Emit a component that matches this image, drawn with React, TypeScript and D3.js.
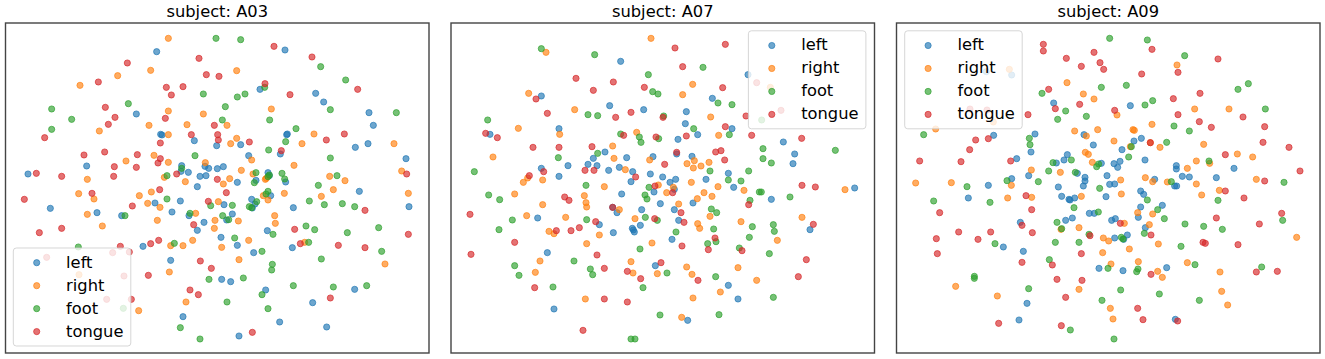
import React from 'react';
import * as d3 from 'd3';

// embedding values, as [x, y] pairs (y runs downwards)
const labels = ['left', 'right', 'foot', 'tongue'];
const colors = ['#1f77b4', '#ff7f0e', '#2ca02c', '#d62728'];
const subjects = ['A03', 'A07', 'A09'];

const a03Left = [[470,155],[409,342],[482,403],[486,405],[583,422],[650,437],[260,498],[84,522],[545,497],[615,499],[626,505],[652,506],[565,517],[600,529],[618,527],[543,514],[855,150],[780,268],[947,280],[971,306],[1107,338],[1120,376],[860,404],[862,402],[722,434],[1066,442],[1104,431],[841,462],[746,467],[1218,476],[670,500],[804,518],[808,527],[712,547],[768,541],[857,546],[812,587],[755,598],[765,612],[757,624],[672,614],[697,642],[680,660],[880,623],[1078,574],[1227,620],[802,692],[663,712],[712,736],[877,743],[761,758],[665,838],[692,845],[797,870],[1064,868],[938,908],[839,966],[980,981],[717,1008],[592,560],[151,625],[291,638],[365,647],[465,609],[541,603],[516,636],[567,647],[612,667],[592,691],[429,739],[512,781],[549,950]];
const a03Right = [[505,115],[452,211],[353,227],[240,256],[505,333],[610,342],[447,376],[561,374],[298,393],[505,404],[462,466],[378,483],[505,487],[616,488],[262,538],[493,532],[710,212],[814,327],[681,376],[942,402],[710,415],[692,431],[906,431],[1182,431],[755,480],[882,496],[724,511],[759,522],[1205,513],[989,529],[689,536],[796,538],[799,535],[670,552],[790,587],[804,600],[853,580],[964,589],[1000,569],[1225,580],[1035,542],[824,647],[826,670],[715,663],[746,721],[665,742],[717,779],[914,727],[1155,792],[556,545],[236,581],[282,597],[418,587],[454,576],[443,610],[480,622],[655,605],[587,640],[262,643],[472,661],[307,678],[645,661],[643,685],[578,721],[549,737],[512,737],[508,816],[558,906],[416,932],[237,824]];
const a03Foot = [[648,115],[610,282],[385,311],[155,327],[215,358],[155,388],[585,467],[501,527],[545,505],[722,119],[962,200],[1037,240],[794,262],[735,282],[712,291],[676,320],[991,329],[809,360],[667,360],[1189,338],[888,386],[857,425],[806,450],[991,474],[768,518],[846,520],[1011,527],[808,525],[804,530],[854,537],[763,548],[804,574],[798,582],[770,605],[748,620],[755,623],[697,616],[668,647],[686,659],[955,556],[928,603],[973,614],[1027,611],[1064,620],[918,678],[944,689],[1042,698],[1136,683],[819,703],[704,714],[926,727],[786,754],[1145,754],[964,777],[817,793],[815,810],[730,834],[880,857],[1000,861],[1100,857],[786,884],[681,906],[804,926],[501,597],[632,617],[570,640],[375,647],[235,741],[523,730],[627,838],[541,983],[600,1017],[370,925]];
const a03Tongue = [[382,189],[597,175],[619,224],[657,229],[295,246],[499,262],[549,260],[514,285],[316,322],[345,352],[496,355],[325,373],[643,376],[134,413],[574,404],[653,404],[655,420],[481,429],[252,465],[314,456],[412,464],[481,476],[474,489],[343,500],[409,502],[109,520],[185,529],[341,529],[530,522],[652,538],[822,139],[936,171],[795,251],[870,284],[1073,268],[1033,402],[979,420],[748,426],[844,452],[1220,522],[679,578],[1095,631],[884,688],[1225,703],[901,731],[1015,736],[1095,743],[991,894],[757,997],[73,598],[276,580],[479,569],[397,618],[625,604],[581,674],[118,698],[185,685],[476,721],[452,731],[361,739],[388,756],[601,783],[634,805],[445,826],[570,870],[595,884],[394,898],[140,772],[338,758],[372,828],[320,898]];

const a07Left = [[527,184],[289,288],[494,317],[596,329],[342,386],[135,403],[445,475],[480,456],[545,473],[624,470],[429,493],[456,497],[369,497],[289,505],[523,502],[491,511],[563,515],[616,522],[342,529],[653,531],[909,224],[802,295],[724,335],[721,371],[861,386],[758,404],[699,418],[695,462],[741,469],[1015,426],[1049,462],[1044,491],[850,520],[692,538],[675,547],[783,538],[688,568],[866,562],[1229,564],[744,609],[979,598],[688,629],[701,661],[681,718],[1095,689],[850,856],[879,897],[728,961],[558,545],[530,582],[627,576],[646,611],[503,622],[516,638],[590,629],[278,654],[463,674],[505,698],[586,676],[562,685],[565,690],[568,696],[307,758],[631,797],[327,927]];
const a07Right = [[618,115],[303,157],[251,280],[389,329],[220,385],[344,403],[575,397],[503,438],[144,471],[507,475],[614,480],[541,509],[293,540],[248,534],[743,253],[713,284],[797,351],[821,406],[976,262],[726,491],[748,482],[745,504],[768,498],[792,487],[739,547],[819,560],[897,571],[685,562],[1200,569],[665,578],[777,578],[757,596],[801,589],[701,612],[795,649],[758,671],[764,685],[888,665],[1071,652],[997,721],[725,801],[741,823],[879,803],[935,841],[826,876],[744,894],[710,952],[235,547],[209,582],[478,560],[418,587],[423,608],[425,621],[293,614],[245,647],[362,652],[523,629],[570,656],[640,555],[312,694],[327,701],[463,705],[425,731],[621,729],[285,783],[271,817],[558,785],[564,819],[637,821],[421,897]];
const a07Foot = [[289,146],[449,164],[610,224],[623,275],[639,282],[128,360],[429,344],[458,347],[656,348],[527,402],[583,411],[588,427],[641,416],[458,460],[340,473],[88,515],[774,202],[819,309],[861,314],[746,386],[853,404],[954,446],[954,476],[979,489],[1171,451],[795,513],[911,513],[850,540],[888,543],[950,360],[943,576],[949,576],[1035,591],[915,601],[799,627],[815,638],[693,696],[806,687],[922,680],[985,674],[988,694],[913,712],[813,725],[788,731],[883,744],[973,761],[666,819],[812,830],[985,892],[822,944],[423,556],[612,562],[131,585],[164,599],[600,585],[606,597],[425,659],[601,652],[637,661],[202,660],[162,689],[585,747],[387,783],[209,797],[222,826],[436,807],[443,824],[324,861],[594,863],[645,945],[558,1017],[570,1017]];
const a07Tongue = [[393,235],[505,246],[445,271],[598,262],[273,297],[307,340],[512,352],[558,337],[654,352],[122,400],[157,413],[536,406],[633,411],[264,442],[342,442],[441,440],[659,493],[296,515],[420,511],[447,511],[253,527],[572,531],[690,144],[841,133],[713,200],[833,263],[903,348],[841,380],[724,408],[920,406],[1070,415],[695,457],[812,456],[828,452],[839,480],[935,248],[1008,331],[683,578],[1071,556],[1111,561],[911,614],[708,638],[717,667],[1105,673],[810,714],[711,738],[790,749],[891,752],[1084,779],[1060,830],[759,841],[630,558],[359,591],[372,601],[75,643],[503,622],[452,665],[629,656],[334,692],[378,692],[403,683],[209,727],[78,763],[456,765],[478,805],[547,814],[648,788],[587,836],[269,863],[478,897],[547,906],[414,991]];

const a09Left = [[289,215],[365,225],[491,309],[311,406],[435,402],[582,404],[610,435],[423,456],[380,476],[532,464],[522,480],[499,489],[634,490],[562,520],[416,527],[585,532],[585,543],[651,527],[365,536],[721,317],[732,423],[754,415],[696,449],[765,480],[690,484],[672,491],[683,502],[859,497],[859,507],[1032,505],[877,529],[898,531],[979,533],[794,538],[659,553],[674,552],[854,558],[860,558],[752,573],[761,583],[752,621],[745,652],[817,616],[665,661],[676,656],[766,683],[712,705],[674,714],[701,718],[830,803],[699,812],[856,958],[295,556],[505,561],[580,558],[235,594],[515,589],[537,598],[540,600],[554,594],[648,590],[598,640],[613,640],[527,661],[547,654],[391,667],[340,741],[400,754],[627,805],[411,910],[387,960]];
const a09Right = [[358,208],[531,248],[580,282],[612,297],[554,393],[623,389],[589,408],[586,457],[595,463],[607,487],[424,510],[511,517],[137,387],[310,366],[861,195],[914,327],[1017,327],[681,345],[786,373],[729,389],[733,391],[672,423],[810,442],[941,433],[721,440],[781,428],[1042,462],[1088,471],[919,483],[892,505],[959,490],[766,533],[788,545],[832,546],[692,540],[1099,538],[919,552],[988,571],[935,585],[694,582],[743,638],[788,642],[778,674],[703,670],[1220,712],[656,723],[805,732],[718,747],[663,792],[745,785],[892,788],[803,814],[817,832],[990,816],[995,874],[1013,915],[661,925],[669,957],[77,549],[184,548],[364,556],[353,594],[425,592],[574,589],[513,688],[567,683],[640,714],[638,758],[197,859],[322,888],[567,868]];
const a09Foot = [[634,262],[456,280],[527,333],[589,349],[503,358],[101,404],[418,415],[420,434],[489,488],[544,480],[620,500],[626,492],[476,513],[556,517],[659,115],[772,120],[884,167],[709,256],[1075,251],[1044,268],[788,302],[765,315],[1126,327],[852,378],[898,393],[830,427],[724,440],[716,471],[957,483],[844,545],[1182,547],[984,601],[772,600],[803,629],[823,656],[885,672],[941,679],[997,688],[1178,661],[763,700],[694,712],[699,717],[873,739],[915,794],[1115,801],[654,805],[744,807],[740,815],[692,870],[808,882],[928,901],[672,1017],[231,560],[351,542],[445,545],[629,565],[131,603],[300,607],[552,623],[625,636],[501,667],[515,686],[597,703],[315,731],[496,727],[567,727],[478,779],[253,829],[253,835],[416,866],[636,901],[541,990]];
const a09Tongue = [[460,133],[460,153],[612,157],[529,175],[630,188],[641,208],[574,199],[476,268],[569,313],[496,326],[414,344],[257,420],[295,416],[239,449],[89,483],[213,485],[362,483],[240,327],[291,330],[786,148],[984,177],[755,222],[864,217],[930,280],[850,296],[674,331],[864,344],[928,365],[1059,351],[964,382],[1124,380],[1119,427],[1197,442],[781,428],[1006,464],[1230,513],[1124,543],[1006,573],[1062,594],[979,654],[1175,640],[1108,672],[691,670],[783,705],[939,727],[946,730],[1044,734],[1099,816],[1162,814],[783,823],[743,925],[759,959],[863,963],[408,587],[425,629],[149,638],[396,676],[427,698],[206,696],[302,696],[264,718],[139,716],[142,761],[396,787],[487,795],[574,761],[600,707],[501,838],[576,841],[527,892],[326,970],[514,977]];

const panelSeries = [
  [a03Left, a03Right, a03Foot, a03Tongue],
  [a07Left, a07Right, a07Foot, a07Tongue],
  [a09Left, a09Right, a09Foot, a09Tongue],
];

const width = 1325;
const height = 359;
const panelLeft = [5.5, 451, 896.5];
const panelWidth = 423.5;
const panelTop = 23;
const panelBottom = 353;
const xDomains = [[16.5, 1287], [18, 1288.5], [19.5, 1290]];
const yDomain = [69, 1059];

const legendWidth = 117.5;
const legendHeight = 98;
const legendPos = [[13.3, 248], [748.4, 30.8], [904.7, 30.8]];
const markerRadius = 3.1;

const Panel = ({ index }) => {
  const left = panelLeft[index];
  const x = d3.scaleLinear().domain(xDomains[index]).range([left, left + panelWidth]);
  const y = d3.scaleLinear().domain(yDomain).range([panelTop, panelBottom]);
  const rowY = d3.scalePoint().domain(labels).range([14.7, 83.6]);
  const [lx, ly] = legendPos[index];

  return (
    <g>
      <text x={left + panelWidth / 2} y={16.5} textAnchor="middle" fontSize={16.3}>
        subject: {subjects[index]}
      </text>
      {panelSeries[index].map((points, s) => (
        <g key={labels[s]} fill={colors[s]} stroke={colors[s]} fillOpacity={0.65} strokeOpacity={0.65}>
          {points.map((p, i) => (
            <circle key={i} cx={x(p[0])} cy={y(p[1])} r={markerRadius} strokeWidth={1} />
          ))}
        </g>
      ))}
      <rect x={left} y={panelTop} width={panelWidth} height={panelBottom - panelTop} fill="none" stroke="#444" strokeWidth={1.4} />
      <g transform={`translate(${lx},${ly})`}>
        <rect width={legendWidth} height={legendHeight} rx={3} fill="#fff" fillOpacity={0.8} stroke="#ccc" strokeOpacity={0.8} strokeWidth={1} />
        {labels.map((label, s) => (
          <g key={label}>
            <circle cx={23.4} cy={rowY(label)} r={markerRadius} strokeWidth={1} fill={colors[s]} stroke={colors[s]} fillOpacity={0.65} strokeOpacity={0.65} />
            <text x={52.8} y={rowY(label) + 5} fontSize={16.3}>{label}</text>
          </g>
        ))}
      </g>
    </g>
  );
};

export default function App() {
  return (
    <svg
      width={width}
      height={height}
      style={{ position: 'absolute', left: 0, top: 0, fontFamily: '"DejaVu Sans"' }}
    >
      <rect width={width} height={height} fill="#fff" />
      {subjects.map((subject, i) => (
        <Panel key={subject} index={i} />
      ))}
    </svg>
  );
}
